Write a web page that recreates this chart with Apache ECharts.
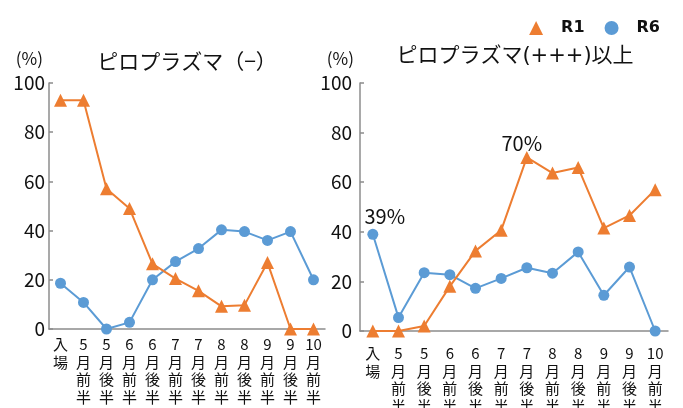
<!DOCTYPE html>
<html>
<head>
<meta charset="utf-8">
<script src="https://cdn.jsdelivr.net/npm/echarts@6/dist/echarts.min.js"></script>
<style>
  html, body { margin: 0; padding: 0; background: #fff; }
  #chart { width: 683px; height: 408px; }
</style>
</head>
<body>
<div id="chart"></div>
<script>
// Sampling periods (shared by both panels)
const periods = ['入場', '5月前半', '5月後半', '6月前半', '6月後半', '7月前半', '7月後半',
                 '8月前半', '8月後半', '9月前半', '9月後半', '10月前半'];

// Share of animals with no piroplasma detected (%)
const negR1 = [93, 93, 57, 49, 26.5, 20.5, 15.5, 9.2, 9.7, 27, 0, 0];
const negR6 = [18.6, 10.8, 0, 2.7, 20, 27.4, 32.7, 40.3, 39.6, 36, 39.6, 20];

// Share of animals at piroplasma (+++) or higher (%)
const highR1 = [0, 0, 2, 18, 32.3, 40.6, 70, 63.7, 65.9, 41.5, 46.6, 57];
const highR6 = [39, 5.4, 23.5, 22.7, 17.2, 21.2, 25.5, 23.3, 31.9, 14.4, 25.8, 0];

const yTicks = { min: 0, max: 100, interval: 20 };

const ORANGE = '#ED7D31';
const BLUE = '#5B9BD5';
const FONT = '"Noto Sans CJK JP", "Noto Sans", sans-serif';

// stack each character vertically, keeping multi-digit numbers together
const vertical = s => s.match(/\d+|./g).join('\n');

// attach a "NN%" label to one point of a series
function withLabel(values, idx, distance, offset) {
  return values.map((v, i) => i === idx
    ? { value: v, label: { show: true, position: 'top', distance, offset,
        formatter: '{c}%', fontSize: 20, fontFamily: FONT, color: '#111' } }
    : v);
}

function xAxis(gridIndex, margin) {
  return {
    type: 'category', gridIndex, data: periods,
    axisLine: { lineStyle: { color: '#8c8c8c', width: 1.5 } },
    axisTick: { show: false },
    axisLabel: { interval: 0, formatter: vertical, fontSize: 15, lineHeight: 17.5,
      fontFamily: FONT, color: '#111', margin, verticalAlign: 'top' }
  };
}

function yAxis(gridIndex, labelMargin) {
  return {
    type: 'value', gridIndex, ...yTicks,
    name: '(%)', nameLocation: 'end', nameGap: 16,
    nameTextStyle: { fontSize: 17, fontFamily: FONT, color: '#111', align: 'right', padding: [0, 6, 0, 0] },
    axisLine: { show: true, lineStyle: { color: '#8c8c8c', width: 1.5 } },
    axisTick: { show: true, inside: true, length: 4, lineStyle: { color: '#8c8c8c', width: 1.5 } },
    splitLine: { show: false },
    axisLabel: { fontSize: 19, fontFamily: FONT, color: '#111', margin: labelMargin }
  };
}

function lineSeries(name, values, xi, symbol, color) {
  return {
    name, type: 'line', xAxisIndex: xi, yAxisIndex: xi, data: values,
    symbol, symbolSize: symbol === 'triangle' ? 13 : 11,
    lineStyle: { color, width: 2 },
    itemStyle: { color },
    z: symbol === 'triangle' ? 3 : 2,
    animation: false
  };
}

const chart = echarts.init(document.getElementById('chart'), null, { renderer: 'canvas' });
chart.setOption({
  backgroundColor: '#fff',
  animation: false,
  textStyle: { fontFamily: FONT },
  title: [
    { text: 'ピロプラズマ（−）', left: 182, top: 46, textAlign: 'center',
      textStyle: { fontSize: 21, fontWeight: 'normal', fontFamily: FONT, color: '#111' } },
    { text: 'ピロプラズマ(+++)以上', left: 510, top: 41, textAlign: 'center',
      textStyle: { fontSize: 21, fontWeight: 'normal', fontFamily: '"DejaVu Sans", "Noto Sans CJK JP", sans-serif', color: '#111' } }
  ],
  legend: {
    top: 15, right: 18, itemGap: 20, itemWidth: 14, itemHeight: 14,
    textStyle: { fontSize: 16, fontWeight: 'bold', fontFamily: '"DejaVu Sans", sans-serif', color: '#111', padding: [0, 0, 0, 13] },
    data: [
      { name: 'R1', icon: 'triangle', itemStyle: { color: ORANGE } },
      { name: 'R6', icon: 'circle', itemStyle: { color: BLUE } }
    ]
  },
  grid: [
    { left: 49, right: 358, top: 83, bottom: 79, containLabel: false, outerBoundsMode: 'none' },
    { left: 360, right: 15, top: 83, bottom: 77, containLabel: false, outerBoundsMode: 'none' }
  ],
  xAxis: [xAxis(0, 7), xAxis(1, 14)],
  yAxis: [yAxis(0, 4), yAxis(1, 8)],
  series: [
    lineSeries('R1', negR1, 0, 'triangle', ORANGE),
    lineSeries('R6', negR6, 0, 'circle', BLUE),
    lineSeries('R1', withLabel(highR1, 6, 3, [-5, 6]), 1, 'triangle', ORANGE),
    lineSeries('R6', withLabel(highR6, 0, 6, [12, 4]), 1, 'circle', BLUE)
  ]
});
</script>
</body>
</html>
